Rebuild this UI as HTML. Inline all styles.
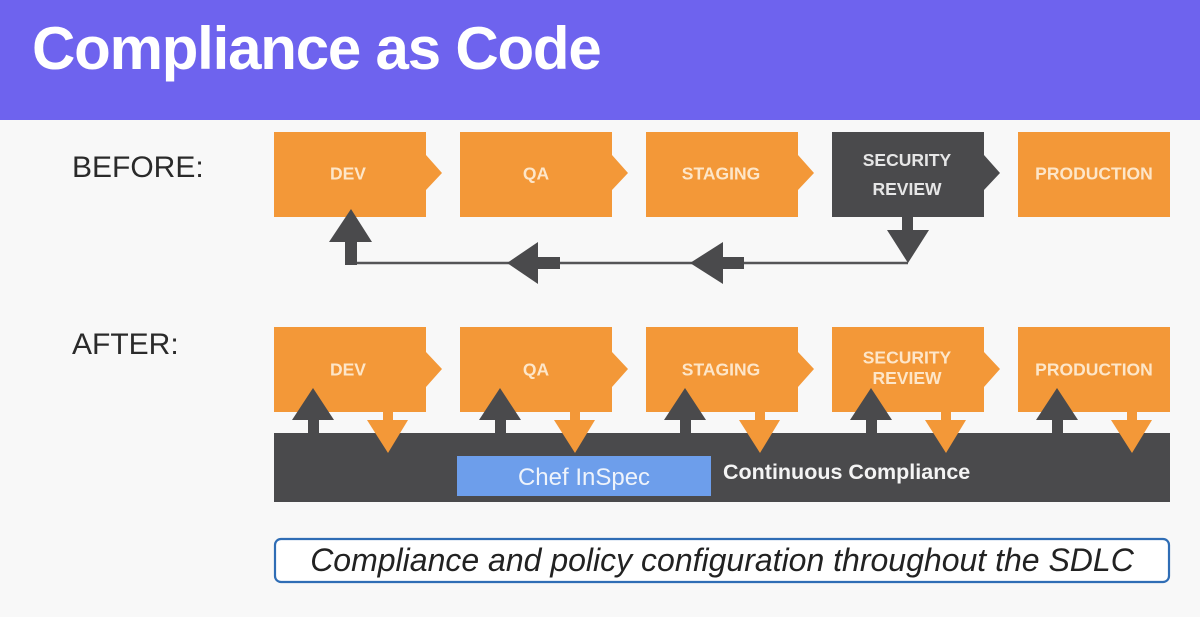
<!DOCTYPE html>
<html><head><meta charset="utf-8"><style>
html,body{margin:0;padding:0;background:#f8f8f8;}
svg{display:block;}
</style></head><body>
<svg width="1200" height="617" viewBox="0 0 1200 617" xmlns="http://www.w3.org/2000/svg">
<rect x="0" y="0" width="1200" height="617" fill="#f8f8f8"/>
<rect x="0" y="0" width="1200" height="120" fill="#6e63ee"/>
<text x="32" y="69" font-family="Liberation Sans, sans-serif" font-weight="bold" font-size="60" letter-spacing="-1.2" fill="#ffffff">Compliance as Code</text>

<text x="72" y="177" font-family="Liberation Sans, sans-serif" font-size="30" fill="#2a2a2a">BEFORE:</text>
<text x="72" y="354" font-family="Liberation Sans, sans-serif" font-size="30" fill="#2a2a2a">AFTER:</text>

<!-- BEFORE boxes -->
<g font-family="Liberation Sans, sans-serif" font-size="17.5" font-weight="bold" text-anchor="middle">
<path d="M274,132 H426 V155 L442,173 L426,190 V217 H274 Z" fill="#f39838"/>
<path d="M460,132 H612 V155 L628,173 L612,190 V217 H460 Z" fill="#f39838"/>
<path d="M646,132 H798 V155 L814,173 L798,190 V217 H646 Z" fill="#f39838"/>
<path d="M832,132 H984 V155 L1000,173 L984,190 V217 H832 Z" fill="#4a4a4c"/>
<rect x="1018" y="132" width="152" height="85" fill="#f39838"/>
<text x="348" y="179.5" fill="#fde6c9">DEV</text>
<text x="536" y="179.5" fill="#fde6c9">QA</text>
<text x="721" y="179.5" fill="#fde6c9">STAGING</text>
<text x="907" y="166" fill="#e6e6e6">SECURITY</text>
<text x="907" y="195" fill="#e6e6e6">REVIEW</text>
<text x="1094" y="179.5" fill="#fde6c9">PRODUCTION</text>
</g>

<!-- BEFORE return arrows -->
<line x1="351" y1="263" x2="908" y2="263" stroke="#555557" stroke-width="2.5"/>
<rect x="902" y="216" width="11" height="16" fill="#4a4a4c"/>
<polygon points="887,230 929,230 908,263" fill="#4a4a4c"/>
<rect x="345" y="240" width="12" height="25" fill="#4a4a4c"/>
<polygon points="329,242 372,242 351,209" fill="#4a4a4c"/>
<rect x="537" y="257" width="23" height="12" fill="#4a4a4c"/>
<polygon points="507,263 538,242 538,284" fill="#4a4a4c"/>
<rect x="722" y="257" width="22" height="12" fill="#4a4a4c"/>
<polygon points="690,263 723,242 723,284" fill="#4a4a4c"/>

<!-- AFTER boxes -->
<g font-family="Liberation Sans, sans-serif" font-size="17.5" font-weight="bold" text-anchor="middle" fill="#fde6c9">
<path d="M274,327 H426 V352 L442,369 L426,387 V412 H274 Z" fill="#f39838"/>
<path d="M460,327 H612 V352 L628,369 L612,387 V412 H460 Z" fill="#f39838"/>
<path d="M646,327 H798 V352 L814,369 L798,387 V412 H646 Z" fill="#f39838"/>
<path d="M832,327 H984 V352 L1000,369 L984,387 V412 H832 Z" fill="#f39838"/>
<rect x="1018" y="327" width="152" height="85" fill="#f39838"/>
<text x="348" y="375.5">DEV</text>
<text x="536" y="375.5">QA</text>
<text x="721" y="375.5">STAGING</text>
<text x="907" y="363.5">SECURITY</text>
<text x="907" y="384">REVIEW</text>
<text x="1094" y="375.5">PRODUCTION</text>
</g>

<!-- Continuous compliance bar -->
<rect x="274" y="433" width="896" height="69" fill="#4a4a4c"/>
<rect x="457" y="456" width="254" height="40" fill="#6d9eeb"/>
<text x="584" y="485" text-anchor="middle" font-family="Liberation Sans, sans-serif" font-size="24" fill="#eef3fb">Chef InSpec</text>
<text x="723" y="479" font-family="Liberation Sans, sans-serif" font-weight="bold" font-size="21.5" fill="#f4f4f4">Continuous Compliance</text>

<!-- AFTER arrows -->
<g id="arr">
<rect x="308" y="418" width="11" height="16" fill="#4a4a4c"/>
<polygon points="292,420 334,420 313,388" fill="#4a4a4c"/>
<rect x="383" y="410" width="10" height="12" fill="#f39838"/>
<polygon points="367,420 408,420 388,453" fill="#f39838"/>
</g>
<use href="#arr" transform="translate(187,0)"/>
<use href="#arr" transform="translate(372,0)"/>
<use href="#arr" transform="translate(558,0)"/>
<use href="#arr" transform="translate(744,0)"/>

<!-- Caption -->
<rect x="275" y="539" width="894" height="43" rx="6" ry="6" fill="#ffffff" stroke="#2f6db5" stroke-width="2.2"/>
<text x="722" y="571" text-anchor="middle" font-family="Liberation Sans, sans-serif" font-style="italic" font-size="32" fill="#222222">Compliance and policy configuration throughout the SDLC</text>
</svg>
</body></html>
